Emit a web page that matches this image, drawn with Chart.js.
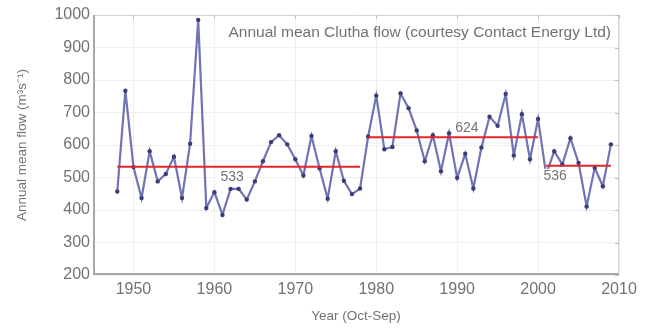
<!DOCTYPE html>
<html>
<head>
<meta charset="utf-8">
<script src="https://cdn.jsdelivr.net/npm/chart.js@4"></script>
<style>
  html, body { margin: 0; padding: 0; background: #fff; }
  #wrap { width: 651px; height: 329px; position: relative; }
</style>
</head>
<body>
<div id="wrap"><canvas id="flowChart"></canvas></div>
<script>
// Water years (Oct-Sep) and annual mean flow, m3/s
const years = [1948, 1949, 1950, 1951, 1952, 1953, 1954, 1955, 1956, 1957,
               1958, 1959, 1960, 1961, 1962, 1963, 1964, 1965, 1966, 1967,
               1968, 1969, 1970, 1971, 1972, 1973, 1974, 1975, 1976, 1977,
               1978, 1979, 1980, 1981, 1982, 1983, 1984, 1985, 1986, 1987,
               1988, 1989, 1990, 1991, 1992, 1993, 1994, 1995, 1996, 1997,
               1998, 1999, 2000, 2001, 2002, 2003, 2004, 2005, 2006, 2007,
               2008, 2009];
const flow = [457, 767, 532, 437, 581, 488, 511, 564, 437, 604,
              985, 406, 455, 385, 465, 465, 432, 488, 550, 609,
              630, 602, 556, 506, 628, 528, 435, 581, 490, 449,
              466, 626, 752, 587, 594, 759, 713, 645, 550, 630,
              519, 636, 499, 573, 466, 592, 687, 659, 757, 568,
              695, 556, 680, 509, 581, 540, 621, 545, 411, 530,
              473, 602];

// Period means
const periodStart = [1948, 1979, 2001];
const periodEnd = [1978, 2000, 2009];
const periodMean = [533, 624, 536];

const xTicks = [1950, 1960, 1970, 1980, 1990, 2000, 2010];
const yTicks = [200, 300, 400, 500, 600, 700, 800, 900, 1000];

const titleText = 'Annual mean Clutha flow (courtesy Contact Energy Ltd)';
const textGrey = '#727272';
const fontFamily = '"Liberation Sans", Arial, sans-serif';

const flowPoints = years.map((y, i) => ({ x: y, y: flow[i] }));

const meanSets = periodMean.map((m, i) => ({
    data: [{ x: periodStart[i], y: m }, { x: periodEnd[i], y: m }],
    borderColor: '#e3262b',
    borderWidth: 2,
    pointRadius: 0,
    order: 0
}));

// where each mean label sits: year along the line, and above/below it
const labelPlace = [
    { year: 1962.2, dy: 9 },
    { year: 1991.2, dy: -10 },
    { year: 2002.1, dy: 9 }
];

const framePlugin = {
    id: 'frameAndNotes',
    afterDatasetsDraw(chart) {
        const { ctx, chartArea: a, scales } = chart;
        ctx.save();

        // frame: dark left/bottom, light top/right
        ctx.lineWidth = 1;
        ctx.strokeStyle = '#d4d4d4';
        ctx.beginPath();
        ctx.moveTo(a.left, a.top + 0.5);
        ctx.lineTo(a.right - 0.5, a.top + 0.5);
        ctx.lineTo(a.right - 0.5, a.bottom);
        ctx.stroke();
        ctx.lineWidth = 2;
        ctx.strokeStyle = '#a8a8a8';
        ctx.beginPath();
        ctx.moveTo(a.left + 1, a.top);
        ctx.lineTo(a.left + 1, a.bottom - 1);
        ctx.lineTo(a.right, a.bottom - 1);
        ctx.stroke();

        // short inner ticks on the top and right edges
        ctx.lineWidth = 1;
        ctx.strokeStyle = '#bdbdbd';
        xTicks.forEach(v => {
            const px = Math.round(scales.x.getPixelForValue(v)) + 0.5;
            ctx.beginPath();
            ctx.moveTo(px, a.top);
            ctx.lineTo(px, a.top + 4);
            ctx.stroke();
        });
        yTicks.forEach(v => {
            const py = Math.round(scales.y.getPixelForValue(v)) + 0.5;
            ctx.beginPath();
            ctx.moveTo(a.right, py);
            ctx.lineTo(a.right - 4, py);
            ctx.stroke();
        });

        // title inside the plot, top right
        ctx.font = '15.5px ' + fontFamily;
        ctx.fillStyle = textGrey;
        ctx.textAlign = 'right';
        ctx.textBaseline = 'middle';
        ctx.fillText(titleText, a.right - 8, a.top + 18);

        // mean labels on white boxes
        ctx.font = '14px ' + fontFamily;
        ctx.textAlign = 'center';
        periodMean.forEach((m, i) => {
            const px = scales.x.getPixelForValue(labelPlace[i].year);
            const py = scales.y.getPixelForValue(m) + labelPlace[i].dy;
            const w = ctx.measureText(String(m)).width + 6;
            ctx.fillStyle = '#fff';
            ctx.fillRect(px - w / 2, py - 6, w, 13);
            ctx.fillStyle = textGrey;
            ctx.fillText(String(m), px, py + 1);
        });

        ctx.restore();
    }
};

const ctx = document.getElementById('flowChart').getContext('2d');
new Chart(ctx, {
    type: 'line',
    data: {
        datasets: [{
            data: flowPoints,
            borderColor: 'rgba(92, 96, 170, 0.88)',
            borderWidth: 2.2,
            pointRadius: 2.2,
            pointBackgroundColor: '#3a3d78',
            pointBorderWidth: 0,
            tension: 0,
            order: 1
        }, ...meanSets]
    },
    options: {
        responsive: true,
        maintainAspectRatio: false,
        animation: false,
        events: [],
        layout: { padding: { left: 0, right: 32, top: 15, bottom: 0 } },
        plugins: {
            legend: { display: false },
            tooltip: { enabled: false }
        },
        scales: {
            x: {
                type: 'linear',
                min: 1945,
                max: 2010,
                afterBuildTicks: axis => { axis.ticks = xTicks.map(v => ({ value: v })); },
                afterFit: axis => { axis.height = 54; },
                grid: { color: '#efefef', drawTicks: false },
                border: { display: false },
                ticks: {
                    padding: 5,
                    color: textGrey,
                    font: { family: fontFamily, size: 16 },
                    maxRotation: 0,
                    callback: v => String(v)
                },
                title: {
                    display: true,
                    text: 'Year (Oct-Sep)',
                    color: textGrey,
                    font: { family: fontFamily, size: 13.5 },
                    padding: { top: 8, bottom: 5 }
                }
            },
            y: {
                min: 200,
                max: 1000,
                afterBuildTicks: axis => { axis.ticks = yTicks.map(v => ({ value: v })); },
                afterFit: axis => { axis.width = 93; },
                grid: { color: '#efefef', drawTicks: false },
                border: { display: false },
                ticks: {
                    padding: 3,
                    color: textGrey,
                    font: { family: fontFamily, size: 16 },
                    callback: v => String(v)
                },
                title: {
                    display: true,
                    text: 'Annual mean flow (m³s⁻¹)',
                    color: textGrey,
                    font: { family: fontFamily, size: 13.5 },
                    padding: { top: 14, bottom: 0 }
                }
            }
        }
    },
    plugins: [framePlugin]
});
</script>
</body>
</html>
